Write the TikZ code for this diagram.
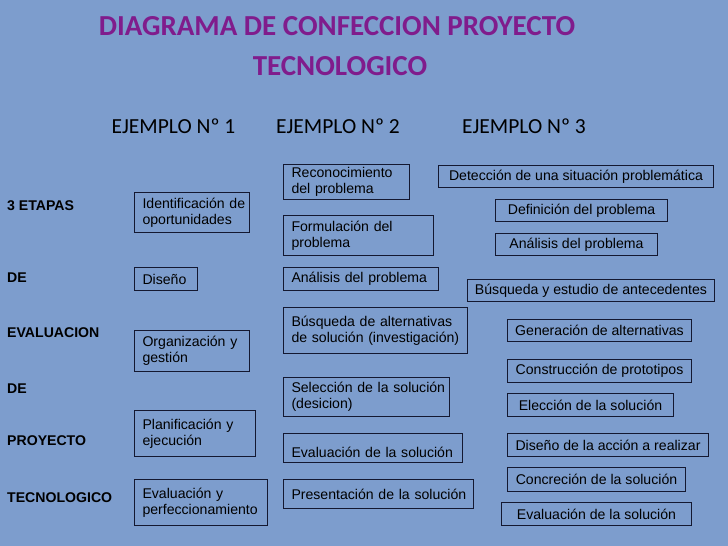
\documentclass[tikz,border=0pt]{standalone}
\usepackage{fontspec}
\setmainfont{Liberation Sans}
\newfontfamily\calibri{Carlito}
\usepackage{tikz}

\definecolor{fondo}{RGB}{125,157,205}
\definecolor{morado}{RGB}{128,28,140}
\definecolor{borde}{RGB}{20,24,48}

\newcommand\singuion{\hyphenpenalty=10000\relax}

\tikzset{
  caja/.style={draw=borde, line width=1pt, anchor=north west, align=left,
    inner xsep=8pt, inner ysep=2pt,
    font={\fontsize{14.1}{16}\selectfont\singuion}},
  cajac/.style={draw=borde, line width=1pt, anchor=north west, align=center,
    inner xsep=3pt, inner ysep=2pt,
    font=\fontsize{14.1}{16}\selectfont},
  etapa/.style={anchor=base west, inner sep=0pt,
    font=\fontsize{14.1}{16}\selectfont\bfseries},
  ejemplo/.style={anchor=base, inner sep=0pt,
    font=\calibri\fontsize{21.5}{24}\selectfont},
  titulo/.style={anchor=base, inner sep=0pt, text=morado,
    font=\calibri\fontsize{29}{40}\selectfont\bfseries}
}

\begin{document}
\begin{tikzpicture}[x=1pt, y=-1pt]
\fill[fondo] (0,0) rectangle (728,546);
\useasboundingbox (0,0) rectangle (728,546);

% titulo
\node[titulo] (tit1) at (337,35) {DIAGRAMA DE CONFECCION PROYECTO};
\node[titulo] (tit2) at (340,75) {TECNOLOGICO};

\node[ejemplo] (ej1) at (173.5,133) {EJEMPLO Nº 1};
\node[ejemplo] (ej2) at (338,133) {EJEMPLO Nº 2};
\node[ejemplo] (ej3) at (524,133) {EJEMPLO Nº 3};

% columna izquierda
\node[etapa] (et1) at (7,210.7) {3 ETAPAS};
\node[etapa] (et2) at (7,282.7) {DE};
\node[etapa] (et3) at (7,337) {EVALUACION};
\node[etapa] (et4) at (7,393) {DE};
\node[etapa] (et5) at (7,445) {PROYECTO};
\node[etapa] (et6) at (7,502) {TECNOLOGICO};

% ejemplo 1
\node[caja, text width=99pt, minimum height=40pt] (a1) at (134,192) {Identificación~de\\oportunidades};
\node[caja, text width=47pt, minimum height=23pt] (a2) at (134,267) {Diseño};
\node[caja, text width=99pt, minimum height=41pt] (a3) at (134,330) {Organización~y\\gestión};
\node[caja, text width=105pt, minimum height=46pt] (a4) at (134,410) {Planificación~y\\ejecución};
\node[caja, text width=117pt, minimum height=46pt] (a5) at (134,479) {Evaluación~y\\perfeccionamiento};

% ejemplo 2
\node[caja, text width=110pt, minimum height=35pt] (b1) at (283,164) {Reconocimiento\\del~problema};
\node[caja, text width=134pt, minimum height=40pt] (b2) at (283,215) {Formulación~del\\problema};
\node[caja, text width=139pt, minimum height=23pt] (b3) at (283,267) {Análisis~del~problema};
\node[caja, text width=168pt, minimum height=46pt] (b4) at (283,307) {Búsqueda~de~alternativas\\de~solución~(investigación)};
\node[caja, text width=150pt, minimum height=39pt] (b5) at (283,377) {Selección~de~la~solución\\(desicion)};
\node[caja, text width=163pt, minimum height=29pt, inner ysep=1pt,
  text height=21pt, text depth=3pt] (b6) at (283,433) {Evaluación~de~la~solución};
\node[caja, text width=174pt, minimum height=29pt] (b7) at (283,479) {Presentación~de~la~solución};

% ejemplo 3
\node[cajac, minimum width=275pt, minimum height=22pt] (c1) at (438,165) {Detección de una situación problemática};
\node[cajac, minimum width=172pt, minimum height=22pt] (c2) at (495,199) {Definición del problema};
\node[cajac, minimum width=162pt, minimum height=22pt] (c3) at (495,233) {Análisis del problema};
\node[cajac, minimum width=247pt, minimum height=22pt] (c4) at (467,279) {Búsqueda y estudio de antecedentes};
\node[cajac, minimum width=184pt, minimum height=22pt] (c5) at (507,319) {Generación de alternativas};
\node[cajac, minimum width=184pt, minimum height=23pt] (c6) at (507,359) {Construcción de prototipos};
\node[cajac, minimum width=166pt, minimum height=23pt] (c7) at (507,393) {Elección de la solución};
\node[cajac, minimum width=201pt, minimum height=23pt] (c8) at (507,433) {Diseño de la acción a realizar};
\node[cajac, minimum width=178pt, minimum height=24pt] (c9) at (507,467) {Concreción de la solución};
\node[cajac, minimum width=190pt, minimum height=23pt] (c10) at (501,502) {Evaluación de la solución};
\end{tikzpicture}
\end{document}
